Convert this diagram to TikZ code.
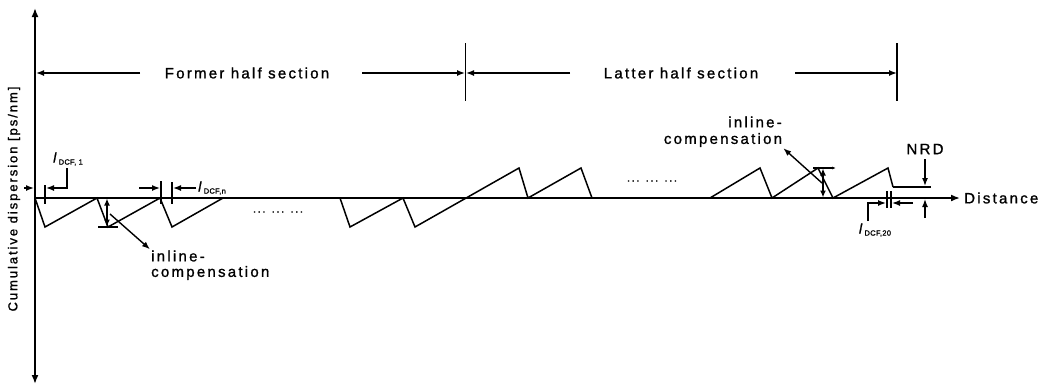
\documentclass[tikz,border=0pt]{standalone}
\usepackage{fontspec}
\setmainfont{Liberation Sans}[LetterSpace=15,FakeBold=1.2]
\usetikzlibrary{arrows.meta}
\newcommand{\subtxt}[1]{\raisebox{-2pt}{\fontsize{7.5}{8}\selectfont\addfontfeature{LetterSpace=4}#1}}
\begin{document}
\begin{tikzpicture}[x=1pt,y=-1pt,
  ax/.style={line width=1.7pt},
  saw/.style={line width=1.5pt, line join=miter},
  thin/.style={line width=1.2pt},
  arr/.style={line width=1.4pt,-{Latex[length=8pt,width=6pt]}},
  darr/.style={line width=1.4pt,{Latex[length=7pt,width=6pt]}-{Latex[length=7pt,width=6pt]}},
  lbl/.style={font=\fontsize{15}{17}\selectfont, inner sep=1pt},
  dotlbl/.style={font=\fontsize{11}{12}\selectfont, inner sep=1pt},
  dlbl/.style={inner sep=1pt, font=\fontsize{14}{15}\selectfont}]
\useasboundingbox (0,0) rectangle (1048,389);
% axes
\coordinate (ytop) at (35,8);
\coordinate (ybot) at (35,384);
\coordinate (o) at (35,198);
\coordinate (xend) at (960,198);
\draw[ax,{Latex[length=9pt,width=7pt]}-{Latex[length=9pt,width=7pt]}] (ybot) -- (ytop);
\draw[ax,-{Latex[length=9pt,width=7pt]}] (o) -- (xend);
\node[lbl,anchor=west] (dist) at (963,198) {Distance};
\node[lbl,rotate=90,font=\fontsize{13}{15}\selectfont] (ylab) at (14,199) {Cumulative dispersion [ps/nm]};
\coordinate (sa1) at (24,188); \coordinate (sa2) at (34,188);
\draw[arr] (sa1) -- (sa2);
% sections
\node[lbl] (former) at (247,73) {Former half section};
\node[lbl] (latter) at (681,73) {Latter half section};
\coordinate (fL) at (140,73); \coordinate (fLe) at (36,73);
\coordinate (fR) at (362,73); \coordinate (fRe) at (465,73);
\coordinate (lL) at (570,73); \coordinate (lLe) at (466,73);
\coordinate (lR) at (795,73); \coordinate (lRe) at (897,73);
\draw[arr] (fL) -- (fLe);
\draw[arr] (fR) -- (fRe);
\draw[arr] (lL) -- (lLe);
\draw[arr] (lR) -- (lRe);
\coordinate (m1) at (465.5,43); \coordinate (m2) at (465.5,101);
\draw[thin] (m1) -- (m2);
\coordinate (e1) at (897,43); \coordinate (e2) at (897,101);
\draw[ax] (e1) -- (e2);
% sawtooth
\draw[saw] (35,198) -- (45,227) -- (97,198) -- (108,227) -- (160,198) -- (172,227) -- (223,198);
\draw[saw] (340,198) -- (350,227) -- (403,198) -- (415,227) -- (519,168) -- (528,198) -- (581,168) -- (592,198);
\draw[saw] (710,198) -- (760,168) -- (772,198) -- (818,168) -- (833,198) -- (888,168) -- (893,187);
% ticks
\draw[thin] (45,185) -- (45,204);
\draw[thin] (161,181) -- (161,204);
\draw[thin] (172,182) -- (172,204);
% l_DCF,1
\node[dlbl] (l1) at (68,159) {\textit{l}\subtxt{DCF, 1}};
\coordinate (l1a) at (67,168); \coordinate (l1b) at (67,188); \coordinate (l1c) at (46,188);
\draw[arr] (l1a) -- (l1b) -- (l1c);
% l_DCF,n
\coordinate (na1) at (139,188); \coordinate (na2) at (160,188);
\coordinate (nb1) at (196,188); \coordinate (nb2) at (173,188);
\draw[arr] (na1) -- (na2);
\draw[arr] (nb1) -- (nb2);
\node[dlbl,anchor=west] (ln) at (197,188) {\textit{l}\subtxt{DCF,n}};
% lower inline compensation
\coordinate (c1a) at (98,227); \coordinate (c1b) at (118,227);
\draw[thin] (c1a) -- (c1b);
\coordinate (c1t) at (107,198.5); \coordinate (c1u) at (107,226.5);
\draw[darr] (c1u) -- (c1t);
\node[lbl,anchor=west] (inl1) at (150,256) {inline-};
\node[lbl,anchor=west] (comp1) at (150,273) {compensation};
\coordinate (c1s) at (110,214);
\draw[arr] (c1s) -- (inl1.north west);
% dots
\node[dotlbl] (dots1) at (278,212) {... ... ...};
\node[dotlbl] (dots2) at (652,181) {... ... ...};
% upper inline compensation
\coordinate (c2a) at (813,168); \coordinate (c2b) at (836,168);
\draw[thin,-{Latex[length=4pt,width=3pt]}] (c2a) -- (c2b);
\coordinate (c2t) at (823,168.5); \coordinate (c2u) at (823,197.5);
\draw[darr] (c2u) -- (c2t);
\node[lbl] (inl2) at (755,122) {inline-};
\node[lbl] (comp2) at (723,140) {compensation};
\coordinate (c2s) at (822,183);
\draw[arr] (c2s) -- (comp2.south east);
% NRD
\coordinate (nr1) at (893,187); \coordinate (nr2) at (931,187);
\draw[thin] (nr1) -- (nr2);
\node[lbl] (nrd) at (925,149) {NRD};
\coordinate (nd1) at (925,159); \coordinate (nd2) at (925,186);
\draw[arr] (nd1) -- (nd2);
\coordinate (nu1) at (925,218); \coordinate (nu2) at (925,199);
\draw[arr] (nu1) -- (nu2);
% l_DCF,20
\draw[thin] (887,191) -- (887,208);
\draw[thin] (891,191) -- (891,208);
\coordinate (t1) at (868,221); \coordinate (t2) at (868,203); \coordinate (t3) at (886,203);
\draw[arr] (t1) -- (t2) -- (t3);
\coordinate (u1) at (913,203); \coordinate (u2) at (892,203);
\draw[arr] (u1) -- (u2);
\node[dlbl] (l20) at (875,230) {\textit{l}\subtxt{DCF,20}};
\end{tikzpicture}
\end{document}
